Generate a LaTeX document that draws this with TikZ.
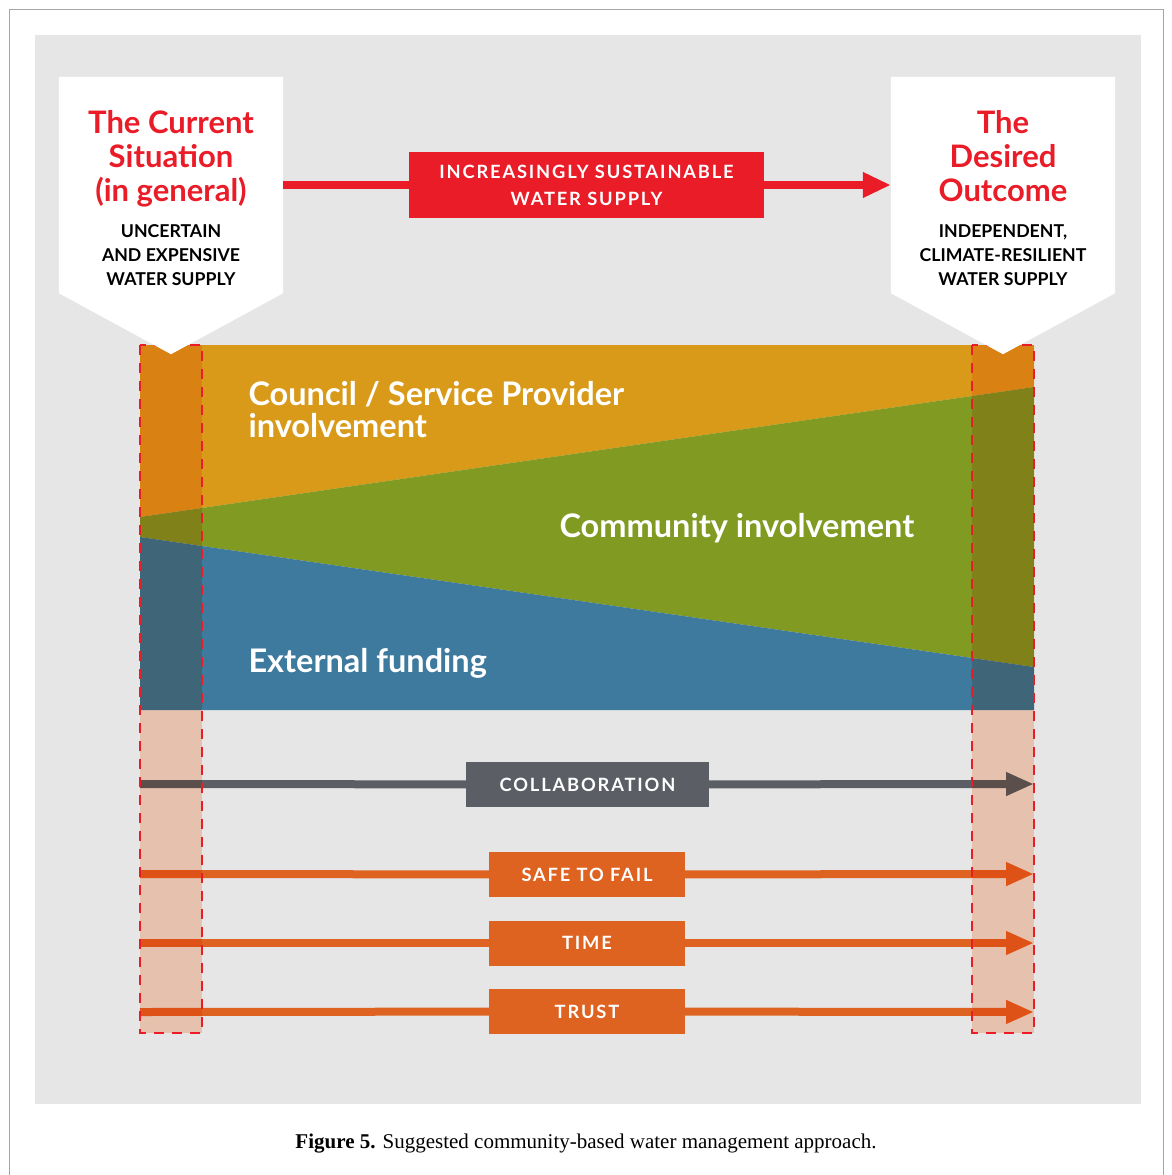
\documentclass[tikz,border=0pt]{standalone}
\usepackage{fontspec}
\setmainfont{Liberation Serif}
\newfontfamily\infofont{Lato}
\newfontfamily\tagfont{Lato}[LetterSpace=10]
\usetikzlibrary{arrows.meta}
\definecolor{bggray}{RGB}{230,230,230}
\definecolor{cred}{RGB}{233,28,40}
\definecolor{corange}{RGB}{217,154,25}
\definecolor{cgreen}{RGB}{128,154,34}
\definecolor{cblue}{RGB}{62,122,158}
\definecolor{cpink}{RGB}{255,214,194}
\definecolor{cslate}{RGB}{91,95,101}
\definecolor{cflame}{RGB}{222,98,32}

\begin{document}
\begin{tikzpicture}[x=1pt,y=-1pt,
  flowline/.style={line width=8pt,draw=#1},
  headed/.style={-{Triangle[length=28pt,width=22pt]}},
  tagbox/.style={fill=#1,text=white,inner sep=0pt,minimum height=45pt,align=center,
    font=\tagfont\bfseries\fontsize{18.3}{27}\selectfont},
  panel/.style={minimum width=224pt,minimum height=216pt,inner sep=0pt},
  titletext/.style={text=cred,align=center,font=\infofont\bfseries\fontsize{31}{34}\selectfont},
  subtext/.style={align=center,font=\infofont\bfseries\fontsize{17.7}{24}\selectfont},
  bandtext/.style={text=white,align=left,anchor=west,font=\infofont\bfseries\fontsize{32.5}{32}\selectfont},
  colframe/.style={draw=cred,line width=2pt,dash pattern=on 10pt off 8pt}
]
  \useasboundingbox (0,0) rectangle (1171,1175);
  \fill[white] (0,0) rectangle (1171,1175);
  \draw[black!35,line width=1pt] (9,1175) -- (9,9) -- (1163,9) -- (1163,1175);
  \fill[bggray] (35,35) rectangle (1141,1104);

  % shares of involvement
  \fill[corange] (140,345) -- (1034,345) -- (1034,387) -- (140,517) -- cycle;
  \fill[cgreen] (140,517) -- (1034,387) -- (1034,667) -- (140,537) -- cycle;
  \fill[cblue] (140,537) -- (1034,667) -- (1034,710) -- (140,710) -- cycle;
  \node[bandtext] (council) at (245,410) {Council / Service Provider\\involvement};
  \node[bandtext] (community) at (556,528) {Community involvement};
  \node[bandtext] (funding) at (245,663) {External funding};

  % principles
  \coordinate (collabstart) at (140,784);
  \coordinate (collabend) at (1034,784);
  \coordinate (failstart) at (140,874);
  \coordinate (failend) at (1034,874);
  \coordinate (timestart) at (140,943);
  \coordinate (timeend) at (1034,943);
  \coordinate (truststart) at (140,1012);
  \coordinate (trustend) at (1034,1012);
  \node[tagbox=cslate,minimum width=243pt] (collab) at (587.5,784.5) {COLLABORATION};
  \node[tagbox=cflame,minimum width=196pt] (fail) at (587,874.5) {SAFE TO FAIL};
  \node[tagbox=cflame,minimum width=196pt] (time) at (587,943) {TIME};
  \node[tagbox=cflame,minimum width=196pt] (trust) at (587,1011.5) {TRUST};
  \draw[flowline=cslate] (collabstart) -- (collab);
  \draw[flowline=cslate,headed] (collab) -- (collabend);
  \draw[flowline=cflame] (failstart) -- (fail);
  \draw[flowline=cflame,headed] (fail) -- (failend);
  \draw[flowline=cflame] (timestart) -- (time);
  \draw[flowline=cflame,headed] (time) -- (timeend);
  \draw[flowline=cflame] (truststart) -- (trust);
  \draw[flowline=cflame,headed] (trust) -- (trustend);

  % start and end columns
  \begin{scope}[blend mode=multiply]
    \fill[cpink] (140,345) rectangle (202,1033);
    \fill[cpink] (972,345) rectangle (1034,1033);
  \end{scope}
  \draw[colframe] (140,345) rectangle (202,1033);
  \draw[colframe] (972,345) rectangle (1034,1033);

  % current and desired
  \node[panel] (current) at (171,185) {};
  \node[panel] (desired) at (1003,185) {};
  \fill[white] (current.north west) -- (current.north east) -- (current.south east)
    -- ([yshift=-61pt]current.south) -- (current.south west) -- cycle;
  \fill[white] (desired.north west) -- (desired.north east) -- (desired.south east)
    -- ([yshift=-61pt]desired.south) -- (desired.south west) -- cycle;
  \node[titletext] (curtitle) at (171,159) {The Current\\Situation\\(in general)};
  \node[subtext] (cursub) at (171,255) {UNCERTAIN\\AND EXPENSIVE\\WATER SUPPLY};
  \node[titletext] (destitle) at (1003,156) {The\\Desired\\Outcome};
  \node[subtext] (dessub) at (1003,255) {INDEPENDENT,\\CLIMATE-RESILIENT\\WATER SUPPLY};

  \node[tagbox=cred,minimum width=355pt,minimum height=66pt] (sustain) at (586.5,185)
    {INCREASINGLY SUSTAINABLE\\WATER SUPPLY};
  \draw[flowline=cred] (current) -- (sustain);
  \draw[flowline=cred,-{Triangle[length=28pt,width=24pt]}] (sustain) -- (desired);

  \node[font=\fontsize{21}{24}\selectfont] (caption) at (586,1144)
    {\textbf{Figure 5.} Suggested community-based water management approach.};
\end{tikzpicture}
\end{document}
